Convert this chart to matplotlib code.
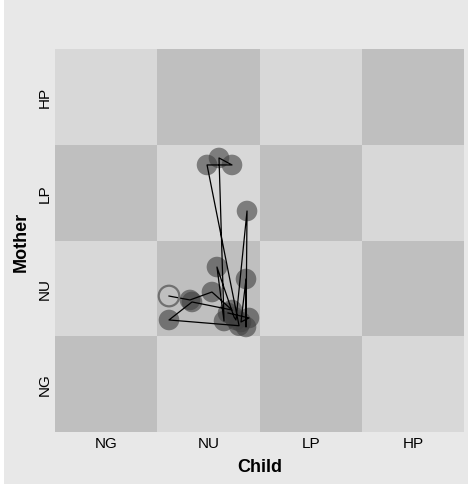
import matplotlib
matplotlib.use("Agg")
import matplotlib.pyplot as plt
import matplotlib.patches as patches

plt.rcParams["font.family"] = ["Liberation Sans", "DejaVu Sans"]

states = ["NG", "NU", "LP", "HP"]

# trajectory in cell units (x = child state, y = mother state), in time order
child = [1.115, 1.320, 1.535, 1.731, 1.340, 1.115, 1.800, 1.487, 1.731, 1.604,
         1.653, 1.584, 1.751, 1.770, 1.878, 1.868, 1.868, 1.819, 1.897, 1.692]
mother = [1.420, 1.379, 1.462, 1.274, 1.358, 1.170, 1.110, 2.789, 2.789, 2.862,
          1.159, 1.723, 1.201, 1.170, 2.308, 1.097, 1.598, 1.149, 1.191, 1.243]

fig = plt.figure(figsize=(4.68, 4.85), dpi=100)
fig.patch.set_facecolor("#e8e8e8")
fig.patches.append(patches.Rectangle((0, 0), 4 / 468, 1, transform=fig.transFigure,
                                     facecolor="white", edgecolor="none", zorder=0))

ax = fig.add_axes([55 / 468, 1 - 433 / 485, 409 / 468, 383 / 485])
ax.set_xlim(0, 4)
ax.set_ylim(0, 4)

for i in range(4):
    for j in range(4):
        col = "#bfbfbf" if (i + j) % 2 == 0 else "#d8d8d8"
        ax.add_patch(patches.Rectangle((i, j), 1, 1, facecolor=col,
                                       edgecolor="none", zorder=0))

ax.plot(child, mother, color="black", linewidth=0.9, zorder=3)
ax.scatter(child[1:], mother[1:], s=220, color="#404040", alpha=0.6,
           edgecolors="none", zorder=2)
ax.scatter(child[:1], mother[:1], s=220, facecolors="none",
           edgecolors="#707070", linewidths=1.6, zorder=4)

ax.set_xticks([0.5, 1.5, 2.5, 3.5])
ax.set_xticklabels(states, fontsize=11)
ax.set_yticks([0.5, 1.5, 2.5, 3.5])
ax.set_yticklabels(states, fontsize=11, rotation=90, va="center")
ax.tick_params(axis="x", length=0, pad=3)
ax.tick_params(axis="y", length=0, pad=2)
for spine in ax.spines.values():
    spine.set_visible(False)

ax.set_xlabel("Child", fontsize=13, fontweight="bold", labelpad=6)
ax.set_ylabel("Mother", fontsize=13, fontweight="bold", labelpad=6)

fig.savefig("out.png", dpi=100, facecolor=fig.get_facecolor())
